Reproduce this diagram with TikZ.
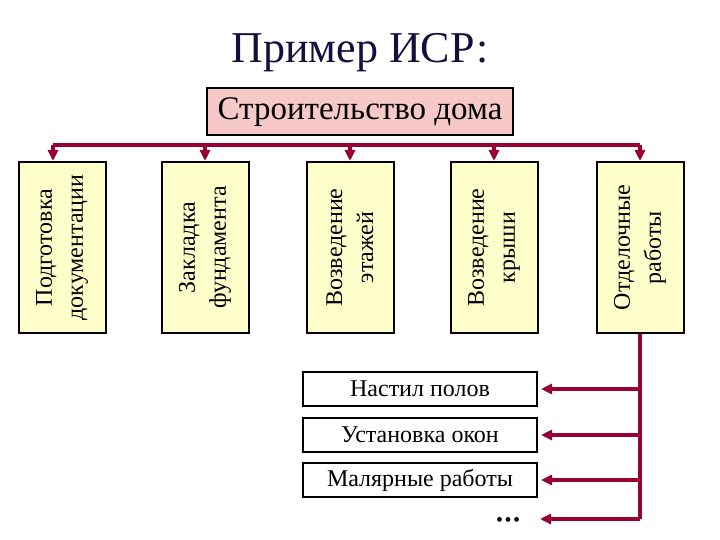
\documentclass[tikz,border=0pt]{standalone}
\usepackage{fontspec}
\setmainfont{Liberation Serif}
\usetikzlibrary{arrows.meta}
\definecolor{barred}{RGB}{153,0,51}
\definecolor{rootpink}{RGB}{246,200,200}
\definecolor{boxyellow}{RGB}{255,255,204}
\definecolor{titleblue}{RGB}{20,15,60}

\begin{document}
\begin{tikzpicture}[x=1pt,y=-1pt,
		work/.style={draw, line width=2pt, fill=boxyellow, minimum width=171pt, minimum height=87pt, rotate=90, align=center, font=\fontsize{24}{31}\selectfont},
		task/.style={draw, line width=2pt, fill=white, minimum width=234pt, minimum height=34pt, inner sep=0pt, font=\fontsize{24}{26}\selectfont},
		link/.style={line width=3.5pt, barred, -{Triangle[length=11pt,width=10pt]}}]
		\useasboundingbox (0,0) rectangle (720,540);
		\node[anchor=base, text=titleblue] (title) at (360,63) {\fontsize{44}{50}\selectfont Пример ИСР:};
		\node[draw, line width=2pt, fill=rootpink, minimum width=306pt, minimum height=47pt, font=\fontsize{33}{36}\selectfont] (root) at (360,112) {Строительство дома};
		% second level
		\node[work] (docs) at (62,247.5) {Подготовка\\документации};
		\node[work] (base) at (205,247.5) {Закладка\\фундамента};
		\node[work] (floors) at (350,247.5) {Возведение\\этажей};
		\node[work] (roof) at (494,247.5) {Возведение\\крыши};
		\node[work] (finish) at (640,247.5) {Отделочные\\работы};
		\coordinate (bar) at (0,145);
		\coordinate (docsin) at ([xshift=-9pt]docs.east);
		\draw[line width=3.5pt, barred] (bar -| docsin) -- (bar -| finish);
		\draw[link] (bar -| docsin) -- (docsin);
		\draw[link] (bar -| base) -- (base.east);
		\draw[link] (bar -| floors) -- (floors.east);
		\draw[link] (bar -| roof) -- (roof.east);
		\draw[link] (bar -| finish) -- (finish.east);
		% finishing works
		\node[task] (floor) at (420,389) {Настил полов};
		\node[task] (windows) at (420,435) {Установка окон};
		\node[task] (paint) at (420,480) {Малярные работы};
		\node (more) at (508,522) {\fontsize{20}{20}\selectfont •\hspace{1.5pt}•\hspace{1.5pt}•};
		\coordinate (moreend) at (540,519);
		\draw[line width=3.5pt, barred] (finish.west) -- (moreend -| finish);
		\draw[link, shorten >=3pt] (floor.east -| finish) -- (floor.east);
		\draw[link, shorten >=3pt] (windows.east -| finish) -- (windows.east);
		\draw[link, shorten >=3pt] (paint.east -| finish) -- (paint.east);
		\draw[link] (moreend -| finish) -- (moreend);
	\end{tikzpicture}
\end{document}
